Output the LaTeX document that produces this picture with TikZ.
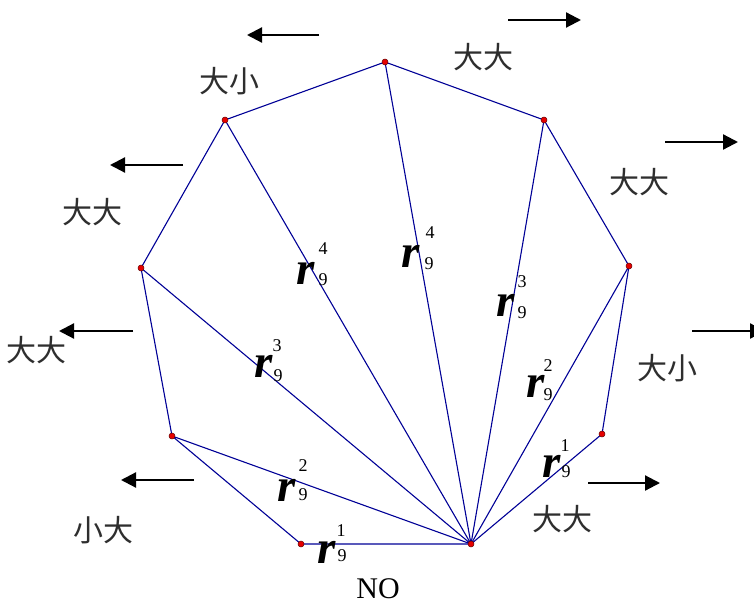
\documentclass[tikz,border=0pt]{standalone}
\usepackage{fontspec}
\setmainfont{Liberation Serif}
\newfontfamily\cjk{Noto Sans CJK SC}
\usetikzlibrary{arrows.meta}
\definecolor{edgeblue}{RGB}{0,0,150}
\definecolor{dotred}{RGB}{230,0,0}
\begin{document}
\begin{tikzpicture}[x=1pt,y=-1pt,
 edge/.style={draw=edgeblue, line width=1.1pt, line join=round},
 vdot/.style={circle, fill=dotred, draw=black!60!red, line width=0.5pt, inner sep=0pt, minimum size=6pt},
 dirarrow/.style={line width=2.2pt, -{Triangle[length=15pt,width=15pt]}},
 cjklab/.style={font=\cjk\fontsize{30}{32}\selectfont, text=black!82, inner sep=0pt},
 rlab/.style={font=\fontsize{47}{48}\selectfont\bfseries\itshape, inner sep=0pt},
 idx/.style={font=\fontsize{18}{20}\selectfont, inner sep=0pt},
 plainlab/.style={font=\fontsize{30}{32}\selectfont, inner sep=0pt},
]
\useasboundingbox (0,0) rectangle (754,604);
% vertices
\coordinate (P0) at (471,544);
\coordinate (P1) at (301,544);
\coordinate (P2) at (172,436);
\coordinate (P3) at (141,268);
\coordinate (P4) at (225,120);
\coordinate (P5) at (385,62);
\coordinate (P6) at (544,120);
\coordinate (P7) at (629,266);
\coordinate (P8) at (602,434);
% polygon and diagonals
\draw[edge] (P0) -- (P1) -- (P2) -- (P3) -- (P4) -- (P5) -- (P6) -- (P7) -- (P8) -- cycle;
\foreach \k in {2,...,7} \draw[edge] (P0) -- (P\k);
% dots
\foreach \k in {0,...,8} \node[vdot] (D\k) at (P\k) {};
% r labels
\node[rlab] (ra4) at (306,273) {r}; \node[idx] (sa4) at (323,249) {4}; \node[idx] (ba4) at (323,280) {9};
\node[rlab] (rb4) at (411,256) {r}; \node[idx] (sb4) at (430,233) {4}; \node[idx] (bb4) at (429,264) {9};
\node[rlab] (rc3) at (506,305) {r}; \node[idx] (sc3) at (522,282) {3}; \node[idx] (bc3) at (522,313) {9};
\node[rlab] (rd3) at (264,366) {r}; \node[idx] (sd3) at (277,346) {3}; \node[idx] (bd3) at (278,376) {9};
\node[rlab] (re2) at (536,386) {r}; \node[idx] (se2) at (548,366) {2}; \node[idx] (be2) at (548,395) {9};
\node[rlab] (rf2) at (287,490) {r}; \node[idx] (sf2) at (303,466) {2}; \node[idx] (bf2) at (303,495) {9};
\node[rlab] (rg1) at (327,552) {r}; \node[idx] (sg1) at (341,531) {1}; \node[idx] (bg1) at (342,556) {9};
\node[rlab] (rh1) at (552,466) {r}; \node[idx] (sh1) at (565,446) {1}; \node[idx] (bh1) at (566,472) {9};
% CJK labels
\node[cjklab] (l1) at (229,81) {大小};
\node[cjklab] (l2) at (483,57) {大大};
\node[cjklab] (l3) at (92,212) {大大};
\node[cjklab] (l4) at (36,350) {大大};
\node[cjklab] (l5) at (103,530) {小大};
\node[cjklab] (l6) at (639,182) {大大};
\node[cjklab] (l7) at (667,368) {大小};
\node[cjklab] (l8) at (562,519) {大大};
\node[plainlab] (no) at (378,589) {NO};
% arrows
\coordinate (a1s) at (319,35);  \coordinate (a1e) at (247,35);
\coordinate (a2s) at (508,20);  \coordinate (a2e) at (581,20);
\coordinate (a3s) at (183,165); \coordinate (a3e) at (110,165);
\coordinate (a4s) at (133,331); \coordinate (a4e) at (59,331);
\coordinate (a5s) at (194,480); \coordinate (a5e) at (121,480);
\coordinate (a6s) at (665,142); \coordinate (a6e) at (738,142);
\coordinate (a7s) at (692,331); \coordinate (a7e) at (765,331);
\coordinate (a8s) at (588,483); \coordinate (a8e) at (660,483);
\foreach \k in {1,...,8} \draw[dirarrow] (a\k s) -- (a\k e);
\end{tikzpicture}
\end{document}
